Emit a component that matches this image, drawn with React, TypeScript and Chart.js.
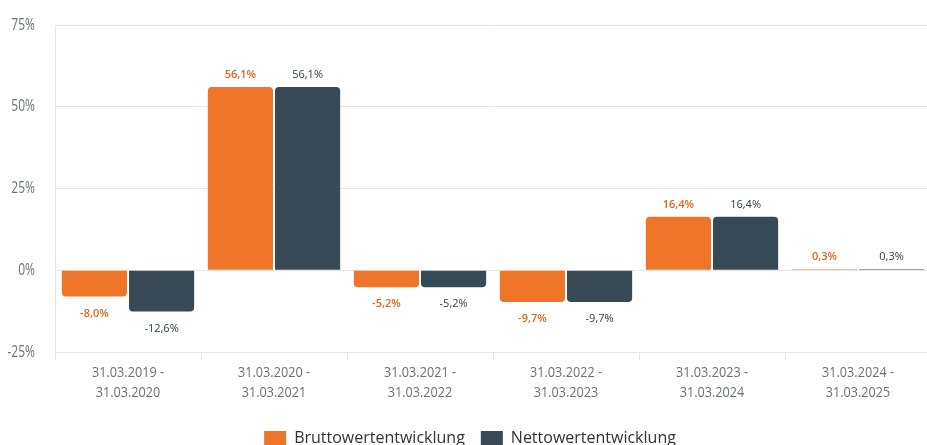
import React, { useEffect, useRef } from "react";
import { Chart, registerables } from "chart.js";

Chart.register(...registerables);

const categories: string[][] = [
  ["31.03.2019 -", "31.03.2020"],
  ["31.03.2020 -", "31.03.2021"],
  ["31.03.2021 -", "31.03.2022"],
  ["31.03.2022 -", "31.03.2023"],
  ["31.03.2023 -", "31.03.2024"],
  ["31.03.2024 -", "31.03.2025"],
];
const brutto: number[] = [-8.0, 56.1, -5.2, -9.7, 16.4, 0.3];
const netto: number[] = [-12.6, 56.1, -5.2, -9.7, 16.4, 0.3];
const seriesNames: string[] = ["Bruttowertentwicklung", "Nettowertentwicklung"];
const yTicks: number[] = [-25, 0, 25, 50, 75];

const ORANGE = "#ef7529";
const DARK = "#394a57";
const ORANGE_TEXT = "#e0661c";
const DARK_TEXT = "#2f3d48";
const AXIS_TEXT = "#6b7178";
const FONT = "'Open Sans', sans-serif";

const fmt = (v: number) => v.toFixed(1).replace(".", ",") + "%";

function drawCondensed(ctx: any, text: string, x: number, y: number, sx: number, align: string) {
  ctx.save();
  ctx.translate(x, y);
  ctx.scale(sx, 1);
  ctx.textAlign = align;
  ctx.fillText(text, 0, 0);
  ctx.restore();
}

const valueLabels = {
  id: "valueLabels",
  afterDatasetsDraw(chart: any) {
    const ctx = chart.ctx;
    ctx.save();
    ctx.textAlign = "center";
    ctx.textBaseline = "middle";
    chart.data.datasets.forEach((ds: any, di: number) => {
      const meta = chart.getDatasetMeta(di);
      meta.data.forEach((el: any, i: number) => {
        const v = ds.data[i] as number;
        const y = v >= 0 ? el.y - 12 : el.y + 17;
        ctx.fillStyle = di === 0 ? ORANGE_TEXT : DARK_TEXT;
        ctx.font = (di === 0 ? "600 " : "400 ") + "11px " + FONT;
        ctx.fillText(fmt(v), el.x, y);
      });
    });
    ctx.restore();
  },
};

const axisLabels = {
  id: "axisLabels",
  afterDraw(chart: any) {
    const ctx = chart.ctx;
    const area = chart.chartArea;
    const ys = chart.scales.y;
    const xs = chart.scales.x;
    ctx.save();
    ctx.fillStyle = AXIS_TEXT;
    ctx.textBaseline = "middle";
    ctx.font = "400 16px " + FONT;
    yTicks.forEach((v) => {
      drawCondensed(ctx, v + "%", area.left - 20, ys.getPixelForValue(v), 0.75, "right");
    });
    ctx.font = "400 15px " + FONT;
    categories.forEach((lines, i) => {
      const x = xs.getPixelForValue(i);
      lines.forEach((t, li) => {
        drawCondensed(ctx, t, x, area.bottom + 20.5 + li * 20, 0.845, "center");
      });
    });
    ctx.restore();
  },
};

export default function App() {
  const ref = useRef<HTMLCanvasElement>(null);
  useEffect(() => {
    if (!ref.current) return;
    const chart = new Chart(ref.current, {
      type: "bar",
      data: {
        labels: categories,
        datasets: [
          {
            label: seriesNames[0],
            data: brutto,
            backgroundColor: ORANGE,
            borderRadius: 4,
            categoryPercentage: 0.92,
            barPercentage: 0.97,
          },
          {
            label: seriesNames[1],
            data: netto,
            backgroundColor: DARK,
            borderRadius: 4,
            categoryPercentage: 0.92,
            barPercentage: 0.97,
          },
        ],
      },
      options: {
        animation: false,
        responsive: false,
        maintainAspectRatio: false,
        layout: { padding: { top: 20, right: 9, left: 9, bottom: 0 } },
        plugins: {
          legend: {
            position: "bottom",
            labels: {
              boxWidth: 22,
              boxHeight: 14,
              padding: 16,
              color: "#333333",
              font: { family: FONT, size: 16 },
            },
          },
          tooltip: { enabled: false },
        },
        scales: {
          x: {
            grid: {
              display: true,
              drawOnChartArea: false,
              tickLength: 8,
              color: "#e3e3e3",
            },
            border: { display: false },
            ticks: {
              color: "rgba(0,0,0,0)",
              font: { family: FONT, size: 12 },
              padding: 2,
            },
            afterFit: (axis: any) => {
              axis.height = 62;
            },
          },
          y: {
            min: -25,
            max: 75,
            afterBuildTicks: (axis: any) => {
              axis.ticks = yTicks.map((v) => ({ value: v }));
            },
            grid: { color: "#e6e6e6", drawTicks: false },
            border: { display: true, color: "#e3e3e3" },
            ticks: {
              color: "rgba(0,0,0,0)",
              font: { family: FONT, size: 12 },
              padding: 18,
              callback: (v: any) => v + "%",
            },
            afterFit: (axis: any) => {
              axis.width = 46;
            },
          },
        },
      },
      plugins: [valueLabels, axisLabels],
    });
    return () => chart.destroy();
  }, []);
  return (
    <div style={{ position: "absolute", left: 0, top: 0 }}>
      <canvas ref={ref} width={940} height={456} />
    </div>
  );
}
